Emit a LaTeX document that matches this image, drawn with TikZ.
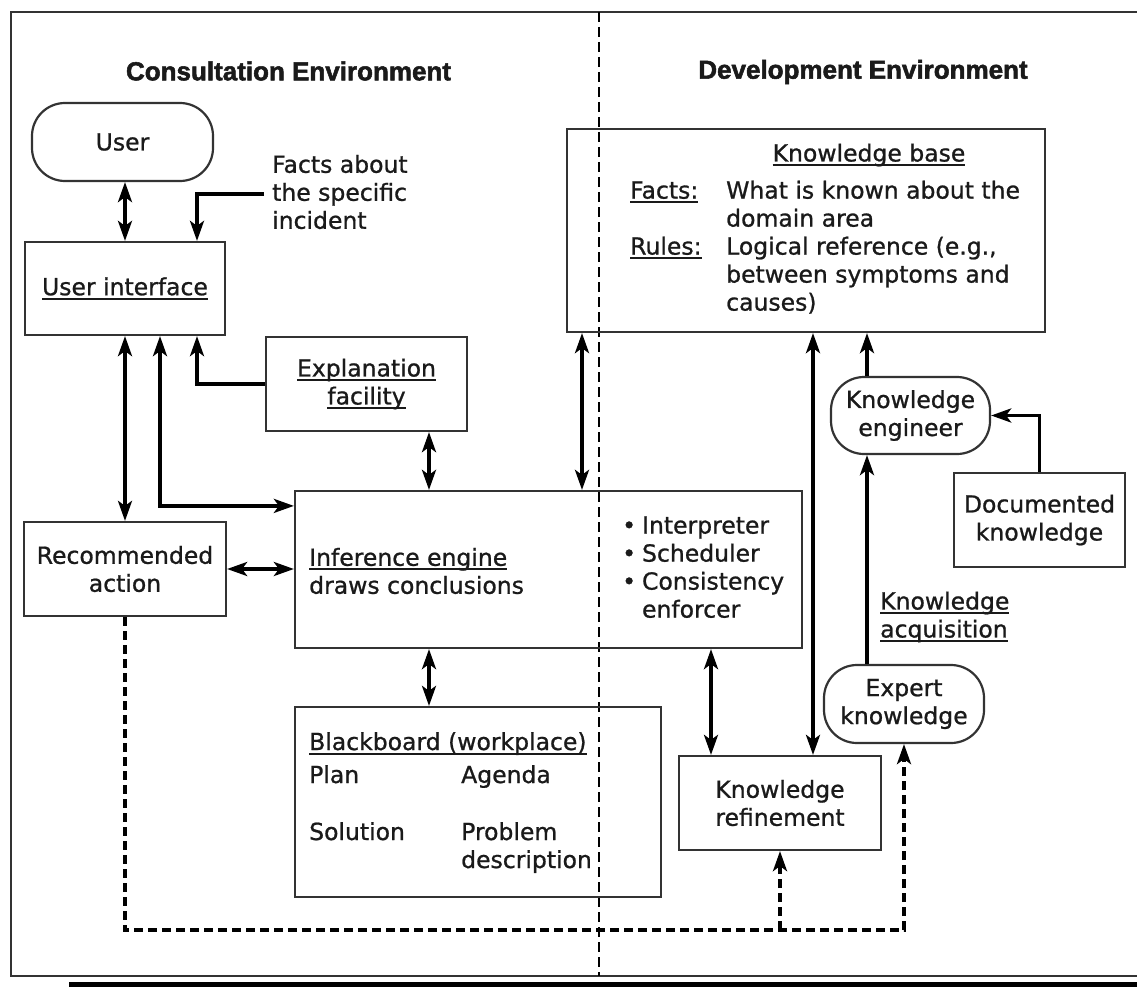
\documentclass[tikz,border=0pt]{standalone}
\usepackage{fontspec}
\setmainfont{DejaVu Sans}[FakeBold=0.9]
\newfontfamily\headfont{Liberation Sans}[BoldFeatures={FakeBold=2}]
\usetikzlibrary{arrows.meta}
\definecolor{boxcol}{HTML}{333333}
\definecolor{txtcol}{HTML}{1A1A1A}
\newcommand\myul[1]{\setbox0\hbox{#1}\rlap{\color{txtcol}\rule[-4.5pt]{\wd0}{1.8pt}}\box0}
\newcommand\bodysize{\fontsize{23.5}{28}\selectfont}
\begin{document}
\begin{tikzpicture}[x=1pt,y=-1pt,
  every node/.style={font=\bodysize, text=txtcol},
  box/.style={draw=boxcol, line width=2.2pt, inner sep=0pt, align=center},
  stad/.style={box, rounded corners=33pt},
  txt/.style={inner sep=0pt, align=left},
  head/.style={inner sep=0pt, font=\headfont\bfseries\fontsize{26}{30}\selectfont},
  arr/.style={line width=3.4pt, -{Stealth[length=20pt,width=14pt,inset=5pt]}},
  darr/.style={line width=3.4pt, {Stealth[length=20pt,width=14pt,inset=5pt]}-{Stealth[length=20pt,width=14pt,inset=5pt]}},
  dasharr/.style={arr, dash pattern=on 9pt off 5pt},
  divider/.style={line width=1.6pt, dash pattern=on 10pt off 5pt},
]
\useasboundingbox (0,0) rectangle (1137,987);
\fill[white] (0,0) rectangle (1137,987);

% frame and divider
\draw[boxcol, line width=2.2pt] (1150,12) -- (11,12) -- (11,976) -- (1150,976);
\draw[black, line width=5pt] (69,984.5) -- (1150,984.5);
\draw[divider] (599,12) -- (599,976);

% headings
\node[head] (hc) at (288.5,71) {Consultation Environment};
\node[head] (hd) at (863,72) {Development Environment};

% boxes
\node[stad, minimum width=181pt, minimum height=78pt] (user) at (122.5,142) {User};
\node[box, minimum width=200pt, minimum height=93pt] (ui) at (125,288.5) {\myul{User interface}};
\node[box, minimum width=201pt, minimum height=94pt] (ef) at (366.5,384) {\myul{Explanation}\\\myul{facility}};
\node[box, minimum width=507pt, minimum height=157pt] (ie) at (548.5,569.5) {};
\node[box, minimum width=202pt, minimum height=94pt] (ra) at (125,569) {Recommended\\action};
\node[box, minimum width=366pt, minimum height=190pt] (bb) at (478,802) {};
\node[box, minimum width=478pt, minimum height=203pt] (kb) at (806,230.5) {};
\node[stad, minimum width=159pt, minimum height=77pt] (ke) at (910.5,415.5) {Knowledge\\engineer};
\node[box, minimum width=171pt, minimum height=94pt] (dk) at (1039.5,520) {Documented\\knowledge};
\node[stad, minimum width=160pt, minimum height=78pt] (ek) at (904,704) {Expert\\knowledge};
\node[box, minimum width=202pt, minimum height=94pt] (kr) at (780,803) {Knowledge\\refinement};

% free texts
\node[txt, anchor=west] (facts) at (272,192) {Facts about\\the specific\\incident};
\node[txt, anchor=west] (ietxt) at (309,571) {\myul{Inference engine}\\draws conclusions};
\node[txt, anchor=west] (iebul) at (622,570) {\begin{tabular}{@{}l@{\hspace{6pt}}l@{}}%
  \textbullet & Interpreter\\ \textbullet & Scheduler\\ \textbullet & Consistency\\ & enforcer\end{tabular}};
\node[txt] (kbt) at (869,155) {\myul{Knowledge base}};
\node[txt, anchor=west] (kbc) at (630,249) {\begin{tabular}{@{}l@{}l@{}}%
  \makebox[96pt][l]{\myul{Facts:}} & What is known about the\\ & domain area\\
  \makebox[96pt][l]{\myul{Rules:}} & Logical reference (e.g.,\\ & between symptoms and\\ & causes)\end{tabular}};
\node[txt, anchor=base west] (bbt) at (309,750) {\myul{Blackboard (workplace)}};
\node[txt, anchor=base west] (bbp) at (309,783) {Plan};
\node[txt, anchor=base west] (bba) at (461,783) {Agenda};
\node[txt, anchor=base west] (bbs) at (309,840) {Solution};
\node[txt, anchor=base west] (bbpr) at (461,840) {Problem};
\node[txt, anchor=base west] (bbd) at (461,868) {description};
\node[txt, anchor=west] (ka) at (880,617) {\myul{Knowledge}\\\myul{acquisition}};

% connectors
\coordinate (fstart) at ([xshift=-8pt,yshift=-2pt]facts.west);
\draw[darr] (user.south -| ui.north) -- (ui.north);
\draw[arr] (fstart) -| ([xshift=72pt]ui.north);
\draw[darr] (ui.south) -- (ra.north);
\draw[darr] ([xshift=35pt]ui.south) |- ([yshift=-16pt]ie.north west);
\draw[arr] (ef.west) -| ([xshift=72pt]ui.south);
\draw[darr] ([xshift=62.5pt]ef.south) -- ([xshift=62.5pt]ef.south |- ie.north);
\draw[darr] ([xshift=33.5pt]ie.north |- kb.south) -- ([xshift=33.5pt]ie.north);
\draw[darr] (ra.east) -- (ra.east -| ie.west);
\draw[darr] ([xshift=-49pt]bb.north |- ie.south) -- ([xshift=-49pt]bb.north);
\draw[darr] ([xshift=-69pt]kr.north |- ie.south) -- ([xshift=-69pt]kr.north);
\draw[darr] ([xshift=33pt]kr.north |- kb.south) -- ([xshift=33pt]kr.north);
\draw[arr] ([xshift=-43.5pt]ke.north) -- ([xshift=-43.5pt]ke.north |- kb.south);
\draw[arr] ([xshift=-37pt]ek.north) -- ([xshift=-37pt]ek.north |- ke.south);
\draw[arr] (dk.north) |- (ke.east);
\coordinate (dbot) at ([yshift=-32pt]bb.south);
\draw[dasharr] (ra.south) |- (dbot -| ek.south) -- (ek.south);
\draw[dasharr] (dbot -| kr.south) -- (kr.south);
\end{tikzpicture}
\end{document}
